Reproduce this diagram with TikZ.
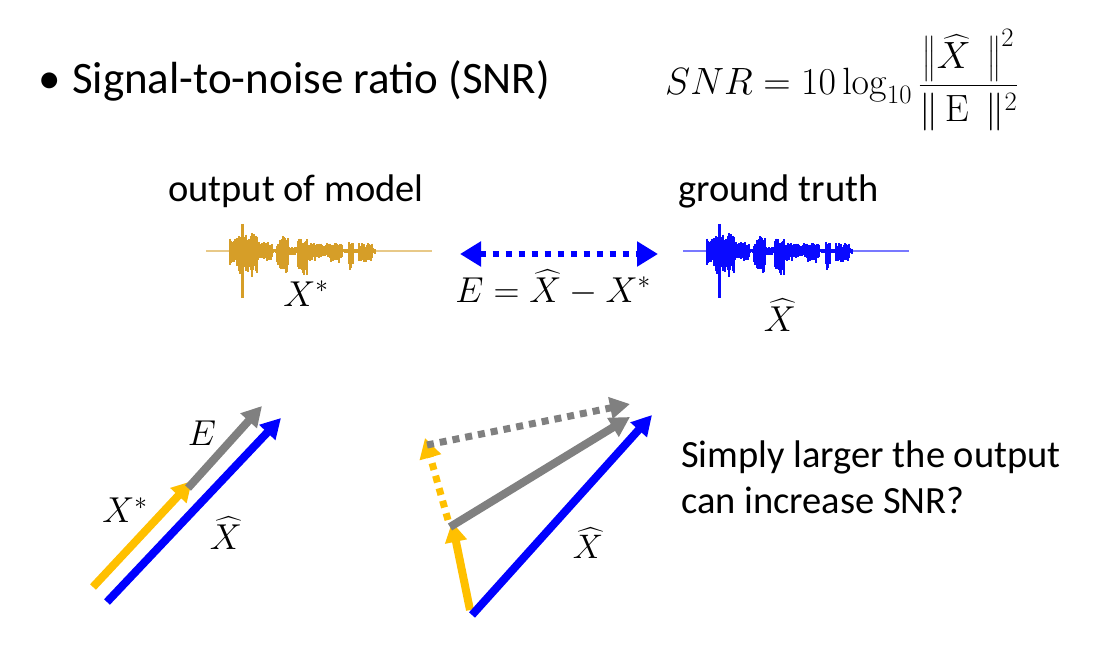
\RequirePackage{fix-cm}
\documentclass[tikz,border=0pt]{standalone}
\usepackage{amsmath}
\usepackage[no-math]{fontspec}
\setmainfont{Carlito}
\usetikzlibrary{arrows.meta}
\definecolor{vblue}{RGB}{0,0,255}
\definecolor{vorange}{RGB}{255,192,0}
\definecolor{vgray}{RGB}{128,128,128}
\definecolor{wgold}{RGB}{214,158,40}
\definecolor{wblue}{RGB}{10,10,255}
\newcommand{\drawwave}[3]{%
  \pgfmathsetseed{11}%
  \draw[#1, opacity=0.55, line width=1.6pt] (#2,#3) -- ++(226,0);
  \foreach \s/\e/\u/\d in {24/29/15/14, 30/32/9/11, 33/38/17/27, 39/51/18/26, 52/66/10/10, 67/70/2/2, 71/73/9/15, 74/82/15/27, 83/91/4/4, 92/101/13/26, 102/109/9/11, 110/124/8/7, 125/136/8/12, 137/142/2/2, 143/147/11/21, 148/152/2/2, 153/166/8/12, 167/169/3/3}{%
    \foreach \i in {\s,...,\e}{%
      \pgfmathsetmacro{\ru}{\u*(0.5+0.5*rnd)}%
      \pgfmathsetmacro{\rd}{\d*(0.5+0.5*rnd)}%
      \draw[#1, line width=1.3pt] (#2+\i,#3-\ru) -- (#2+\i,#3+\rd);
    }%
  }%
  \draw[#1, line width=3pt] (#2+36,#3-27) -- (#2+36,#3+47);
  \draw[#1, line width=1.8pt] (#2+31,#3-13) -- (#2+31,#3+15);
  \draw[#1, line width=1.8pt] (#2+46,#3-18) -- (#2+46,#3+26);
}
\begin{document}
\begin{tikzpicture}[x=1pt,y=-1pt,
  every node/.style={inner sep=0pt},
  vec/.style={line width=8pt, -{Triangle[length=20pt,width=21pt]}},
  dvec/.style={line width=7pt, dash pattern=on 7pt off 6pt, -{Triangle[length=20pt,width=21pt]}},
  big/.style={font=\fontsize{45}{54}\selectfont},
  mid/.style={font=\fontsize{38.5}{46}\selectfont},
  lab/.style={font=\fontsize{#1}{#1}\selectfont}]
\fill[white] (0,0) rectangle (1096,658);
\useasboundingbox (0,0) rectangle (1096,658);

% header
\node[big, anchor=base] (bullet) at (50,94) {\textbullet};
\node[big, anchor=base west] (title) at (72,94) {Signal-to-noise ratio (SNR)};
\node[lab=38, anchor=base west] (snr) at (665,95)
  {$SNR = 10\log_{10}\dfrac{\bigl\|\widehat{X}\;\,\bigr\|^{2}}{\|\,\mathrm{E}\;\,\|^{2}}$};

% labels above waves
\node[mid, anchor=base west] (outm) at (168,201.5) {output of model};
\node[mid, anchor=base west] (gt) at (678,201.5) {ground truth};

% waveforms
\drawwave{wgold}{206}{251}
\drawwave{wblue}{683}{251}

\node[lab=36, anchor=base] (xs) at (306,306) {$X^{*}$};
\node[lab=36, anchor=base] (xh) at (780,331) {$\widehat{X}$};

% double arrow
\coordinate (dl) at (460,254);
\coordinate (dr) at (658,254);
\draw[vblue, line width=6pt, dash pattern=on 6pt off 7pt,
  {Triangle[length=21pt,width=24pt]}-{Triangle[length=21pt,width=24pt]}] (dl) -- (dr);
\node[lab=36, anchor=base] (eq) at (553,302) {$E=\widehat{X}-X^{*}$};

% bottom left vectors
\coordinate (a0) at (93,587);
\coordinate (a1) at (192,481);
\coordinate (g0) at (188,488);
\coordinate (g1) at (262,406);
\coordinate (b0) at (107,602);
\coordinate (b1) at (281,418);
\draw[vec, vorange] (a0) -- (a1);
\draw[vec, vgray] (g0) -- (g1);
\draw[vec, vblue] (b0) -- (b1);
\node[lab=36] (le) at (202,433) {$E$};
\node[lab=36] (lx) at (125,510) {$X^{*}$};
\node[lab=36] (lxh) at (226,533) {$\widehat{X}$};

% bottom middle vectors
\coordinate (c0) at (472,615);
\coordinate (c1) at (652,415);
\coordinate (o0) at (470,610);
\coordinate (o1) at (452,522);
\coordinate (o2) at (425,438);
\coordinate (h0) at (450,527);
\coordinate (h1) at (630,417);
\coordinate (p0) at (427,445);
\coordinate (p1) at (630,404);
\draw[dvec, vorange] (448,520) -- (o2);
\draw[dvec, vgray] (p0) -- (p1);
\draw[vec, vorange] (o0) -- (o1);
\draw[vec, vgray] (h0) -- (h1);
\draw[vec, vblue] (c0) -- (c1);
\node[lab=34] (mxh) at (588,543) {$\widehat{X}$};

% question
\node[mid, anchor=base west] (q1) at (681,467) {Simply larger the output};
\node[mid, anchor=base west] (q2) at (681,513) {can increase SNR?};
\end{tikzpicture}
\end{document}
